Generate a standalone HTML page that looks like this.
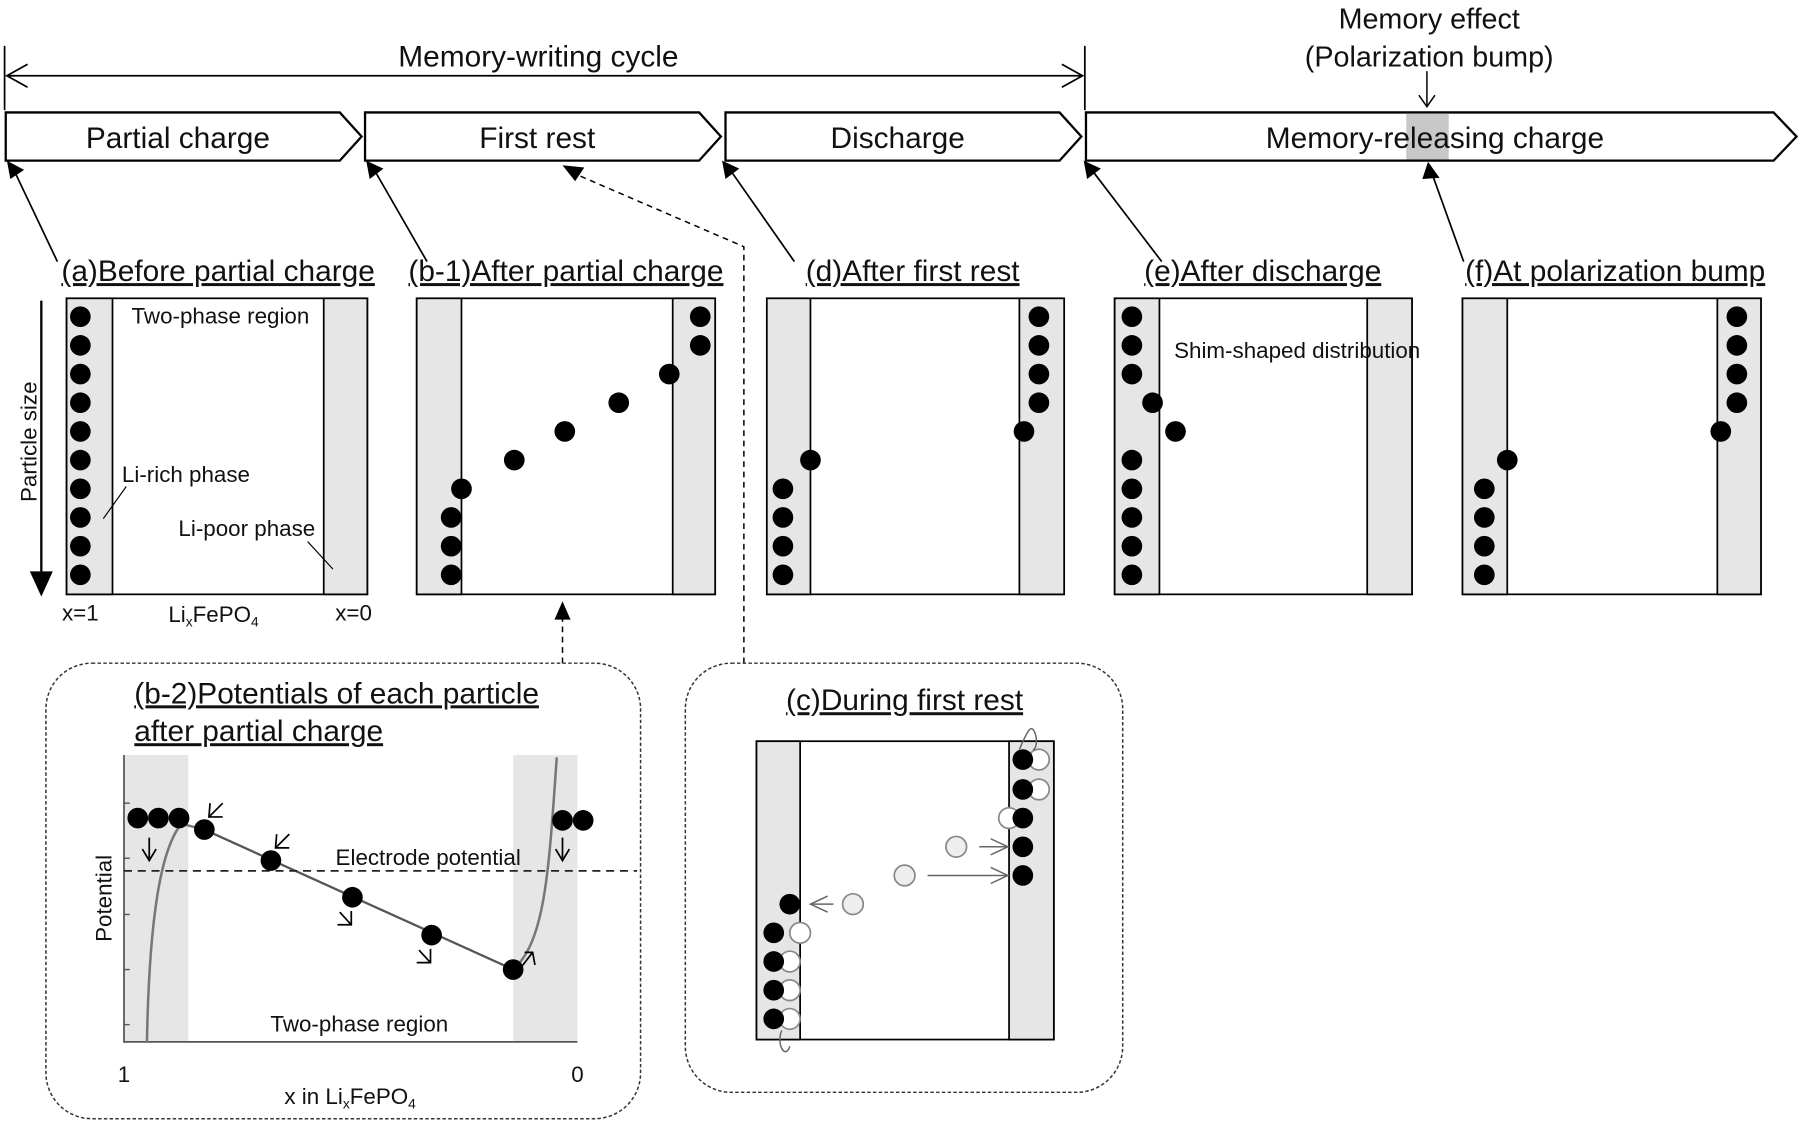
<!DOCTYPE html>
<html><head><meta charset="utf-8"><style>
html,body{margin:0;padding:0;background:#fff;}
svg{display:block;}
text{font-family:"Liberation Sans",sans-serif;fill:#111;}
.t{font-size:26px;text-decoration:underline;}
.s{font-size:19.5px;}
</style></head><body>
<svg width="1800" height="1121" viewBox="0 0 1568 977" preserveAspectRatio="none" xmlns="http://www.w3.org/2000/svg">
<defs>
<marker id="ag" markerWidth="20" markerHeight="20" refX="18" refY="10" orient="auto" markerUnits="userSpaceOnUse"><path d="M3,3 L18,10 L3,17" fill="none" stroke="#666" stroke-width="1.3"/></marker>
</defs>
<line x1="4" y1="40" x2="4" y2="96" stroke="#000" stroke-width="1.5"/>
<line x1="945" y1="40" x2="945" y2="96" stroke="#000" stroke-width="1.5"/>
<line x1="6" y1="66" x2="943" y2="66" stroke="#000" stroke-width="1.5"/>
<path d="M24,56 L6,66 L24,76 M925,56 L943,66 L925,76" fill="none" stroke="#000" stroke-width="1.5"/>
<text x="469" y="58" font-size="26" text-anchor="middle">Memory-writing cycle</text>
<text x="1245" y="25" font-size="25" text-anchor="middle">Memory effect</text>
<text x="1245" y="58" font-size="25" text-anchor="middle">(Polarization bump)</text>
<line x1="1243" y1="62" x2="1243" y2="92" stroke="#000" stroke-width="1.3"/>
<path d="M1236,83 L1243,93 L1250,83" fill="none" stroke="#000" stroke-width="1.3"/>
<g fill="#fff" stroke="#000" stroke-width="2">
<path d="M5,98 H296 L315,119 L296,140 H5 Z"/>
<path d="M318,98 H609 L628,119 L609,140 H318 Z"/>
<path d="M632,98 H923 L942,119 L923,140 H632 Z"/>
<path d="M946,98 H1545 L1565,119 L1545,140 H946 Z"/>
</g>
<rect x="1225" y="99" width="37" height="40" fill="#c8c8c8"/>
<text x="155" y="129" font-size="26" text-anchor="middle">Partial charge</text>
<text x="468" y="129" font-size="26" text-anchor="middle">First rest</text>
<text x="782" y="129" font-size="26" text-anchor="middle">Discharge</text>
<text x="1250" y="129" font-size="26" text-anchor="middle">Memory-releasing charge</text>
<g stroke="#000" stroke-width="1.5" fill="none">
<line x1="50" y1="228" x2="12" y2="148"/>
<line x1="372" y1="228" x2="326" y2="148"/>
<line x1="692" y1="228" x2="636" y2="148"/>
<line x1="1012" y1="228" x2="951" y2="148"/>
<line x1="1275" y1="228" x2="1247" y2="150"/>
</g>
<g fill="#000">
<path d="M6,140 L21,148 L9,156 Z"/>
<path d="M319,140 L334,147 L322,156 Z"/>
<path d="M629,140 L644,147 L632,156 Z"/>
<path d="M944,140 L959,147 L947,156 Z"/>
<path d="M1244,141 L1254,155 L1239,156 Z"/>
</g>
<path d="M648,578 V215 L502,152" fill="none" stroke="#000" stroke-width="1.3" stroke-dasharray="5,4"/>
<path d="M490,144 L509,146 L501,158 Z" fill="#000"/>
<path d="M490,578 V538" fill="none" stroke="#000" stroke-width="1.3" stroke-dasharray="5,4"/>
<path d="M483,540 L490,524 L497,540 Z" fill="#000"/>
<text class="t" x="190" y="245" text-anchor="middle">(a)Before partial charge</text>
<text class="t" x="493" y="245" text-anchor="middle">(b-1)After partial charge</text>
<text class="t" x="795" y="245" text-anchor="middle">(d)After first rest</text>
<text class="t" x="1100" y="245" text-anchor="middle">(e)After discharge</text>
<text class="t" x="1407" y="245" text-anchor="middle">(f)At polarization bump</text>
<g stroke="#000" stroke-width="1.5">
<rect x="58" y="260" width="262" height="258" fill="#fff"/>
<rect x="58" y="260" width="40" height="258" fill="#e6e6e6"/>
<rect x="282" y="260" width="38" height="258" fill="#e6e6e6"/>
<rect x="363" y="260" width="260" height="258" fill="#fff"/>
<rect x="363" y="260" width="39" height="258" fill="#e6e6e6"/>
<rect x="586" y="260" width="37" height="258" fill="#e6e6e6"/>
<rect x="668" y="260" width="259" height="258" fill="#fff"/>
<rect x="668" y="260" width="38" height="258" fill="#e6e6e6"/>
<rect x="888" y="260" width="39" height="258" fill="#e6e6e6"/>
<rect x="971" y="260" width="259" height="258" fill="#fff"/>
<rect x="971" y="260" width="39" height="258" fill="#e6e6e6"/>
<rect x="1191" y="260" width="39" height="258" fill="#e6e6e6"/>
<rect x="1274" y="260" width="260" height="258" fill="#fff"/>
<rect x="1274" y="260" width="39" height="258" fill="#e6e6e6"/>
<rect x="1496" y="260" width="38" height="258" fill="#e6e6e6"/>
</g>
<g fill="#000">
<circle cx="70" cy="276" r="9"/><circle cx="70" cy="301" r="9"/><circle cx="70" cy="326" r="9"/><circle cx="70" cy="351" r="9"/><circle cx="70" cy="376" r="9"/><circle cx="70" cy="401" r="9"/><circle cx="70" cy="426" r="9"/><circle cx="70" cy="451" r="9"/><circle cx="70" cy="476" r="9"/><circle cx="70" cy="501" r="9"/>
<circle cx="610" cy="276" r="9"/><circle cx="610" cy="301" r="9"/><circle cx="583" cy="326" r="9"/><circle cx="539" cy="351" r="9"/><circle cx="492" cy="376" r="9"/><circle cx="448" cy="401" r="9"/><circle cx="402" cy="426" r="9"/><circle cx="393" cy="451" r="9"/><circle cx="393" cy="476" r="9"/><circle cx="393" cy="501" r="9"/>
<circle cx="905" cy="276" r="9"/><circle cx="905" cy="301" r="9"/><circle cx="905" cy="326" r="9"/><circle cx="905" cy="351" r="9"/><circle cx="892" cy="376" r="9"/><circle cx="706" cy="401" r="9"/><circle cx="682" cy="426" r="9"/><circle cx="682" cy="451" r="9"/><circle cx="682" cy="476" r="9"/><circle cx="682" cy="501" r="9"/>
<circle cx="986" cy="276" r="9"/><circle cx="986" cy="301" r="9"/><circle cx="986" cy="326" r="9"/><circle cx="1004" cy="351" r="9"/><circle cx="1024" cy="376" r="9"/><circle cx="986" cy="401" r="9"/><circle cx="986" cy="426" r="9"/><circle cx="986" cy="451" r="9"/><circle cx="986" cy="476" r="9"/><circle cx="986" cy="501" r="9"/>
<circle cx="1513" cy="276" r="9"/><circle cx="1513" cy="301" r="9"/><circle cx="1513" cy="326" r="9"/><circle cx="1513" cy="351" r="9"/><circle cx="1499" cy="376" r="9"/><circle cx="1313" cy="401" r="9"/><circle cx="1293" cy="426" r="9"/><circle cx="1293" cy="451" r="9"/><circle cx="1293" cy="476" r="9"/><circle cx="1293" cy="501" r="9"/>
</g>
<text class="s" x="192" y="282" text-anchor="middle">Two-phase region</text>
<text class="s" x="162" y="420" text-anchor="middle">Li-rich phase</text>
<line x1="110" y1="424" x2="90" y2="452" stroke="#000"/>
<text class="s" x="215" y="467" text-anchor="middle">Li-poor phase</text>
<line x1="268" y1="472" x2="290" y2="496" stroke="#000"/>
<text class="s" x="1130" y="312" text-anchor="middle">Shim-shaped distribution</text>
<text class="s" transform="translate(32,385) rotate(-90)" text-anchor="middle">Particle size</text>
<line x1="36" y1="262" x2="36" y2="500" stroke="#000" stroke-width="2"/>
<path d="M26,498 L36,520 L46,498 Z" fill="#000"/>
<text class="s" x="70" y="541" text-anchor="middle" font-size="17">x=1</text>
<text class="s" x="186" y="542" text-anchor="middle" font-size="17">Li<tspan font-size="12" dy="4">x</tspan><tspan dy="-4">FePO</tspan><tspan font-size="12" dy="4">4</tspan></text>
<text class="s" x="308" y="541" text-anchor="middle" font-size="17">x=0</text>
<rect x="40" y="578" width="518" height="397" rx="40" fill="none" stroke="#333" stroke-width="1.3" stroke-dasharray="3,2"/>
<text class="t" x="117" y="613">(b-2)Potentials of each particle</text>
<text class="t" x="117" y="646">after partial charge</text>
<rect x="108" y="658" width="56" height="250" fill="#e6e6e6"/>
<rect x="447" y="658" width="56" height="250" fill="#e6e6e6"/>
<path d="M108,658 V908 H503" fill="none" stroke="#555" stroke-width="1.5"/>
<g stroke="#555" stroke-width="1.2"><line x1="108" y1="700" x2="113" y2="700"/><line x1="108" y1="748" x2="113" y2="748"/><line x1="108" y1="797" x2="113" y2="797"/><line x1="108" y1="845" x2="113" y2="845"/><line x1="108" y1="893" x2="113" y2="893"/></g>
<path d="M128,908 C130,800 140,740 158,718 L178,723" fill="none" stroke="#777" stroke-width="2.2"/>
<path d="M447,845 C475,820 478,760 485,660" fill="none" stroke="#777" stroke-width="2.2"/>
<line x1="178" y1="723" x2="447" y2="845" stroke="#555" stroke-width="2"/>
<line x1="108" y1="759" x2="555" y2="759" stroke="#222" stroke-width="1.5" stroke-dasharray="7,5"/>
<text class="s" x="373" y="754" text-anchor="middle">Electrode potential</text>
<g fill="#000">
<circle cx="120" cy="713" r="9"/><circle cx="138" cy="713" r="9"/><circle cx="156" cy="713" r="9"/><circle cx="178" cy="723" r="9"/><circle cx="236" cy="750" r="9"/><circle cx="307" cy="782" r="9"/><circle cx="376" cy="815" r="9"/><circle cx="447" cy="845" r="9"/><circle cx="490" cy="715" r="9"/><circle cx="508" cy="715" r="9"/>
</g>
<g stroke="#000" stroke-width="1.5" fill="none">
<path d="M182,712 L194,700 M183,700 L182,712 L194,712" transform="rotate(0)"/>
<path d="M240,739 L252,727 M241,727 L240,739 L252,739"/>
<path d="M296,795 L306,806 M306,794 L306,806 L294,806"/>
<path d="M365,828 L375,839 M375,827 L375,839 L363,839"/>
<path d="M454,843 L464,830 M457,830 L464,830 L466,841"/>
<path d="M130,730 V748 M124,740 L130,750 L136,740"/>
<path d="M490,730 V748 M484,740 L490,750 L496,740"/>
</g>
<text class="s" x="313" y="899" text-anchor="middle">Two-phase region</text>
<text class="s" x="108" y="943" text-anchor="middle">1</text>
<text class="s" x="503" y="943" text-anchor="middle">0</text>
<text class="s" x="305" y="962" text-anchor="middle" font-size="18">x in Li<tspan font-size="12" dy="4">x</tspan><tspan dy="-4">FePO</tspan><tspan font-size="12" dy="4">4</tspan></text>
<text class="s" transform="translate(97,783) rotate(-90)" text-anchor="middle">Potential</text>
<rect x="597" y="578" width="381" height="374" rx="40" fill="none" stroke="#333" stroke-width="1.3" stroke-dasharray="3,2"/>
<text class="t" x="788" y="619" text-anchor="middle">(c)During first rest</text>
<g stroke="#000" stroke-width="1.5">
<rect x="659" y="646" width="259" height="260" fill="#fff"/>
<rect x="659" y="646" width="38" height="260" fill="#e6e6e6"/>
<rect x="879" y="646" width="39" height="260" fill="#e6e6e6"/>
</g>
<g fill="#fff" stroke="#888" stroke-width="1.5">
<circle cx="905" cy="662" r="9"/><circle cx="905" cy="688" r="9"/><circle cx="879" cy="713" r="9"/><circle cx="833" cy="738" r="9" fill="#eee"/><circle cx="788" cy="763" r="9" fill="#eee"/><circle cx="743" cy="788" r="9" fill="#eee"/><circle cx="697" cy="813" r="9"/><circle cx="688" cy="838" r="9"/><circle cx="688" cy="863" r="9"/><circle cx="688" cy="888" r="9"/>
</g>
<g fill="#000">
<circle cx="891" cy="662" r="9"/><circle cx="891" cy="688" r="9"/><circle cx="891" cy="713" r="9"/><circle cx="891" cy="738" r="9"/><circle cx="891" cy="763" r="9"/><circle cx="688" cy="788" r="9"/><circle cx="674" cy="813" r="9"/><circle cx="674" cy="838" r="9"/><circle cx="674" cy="863" r="9"/><circle cx="674" cy="888" r="9"/>
</g>
<g stroke="#666" stroke-width="1.3" fill="none">
<line x1="853" y1="738" x2="878" y2="738" marker-end="url(#ag)"/>
<line x1="808" y1="763" x2="878" y2="763" marker-end="url(#ag)"/>
<line x1="726" y1="788" x2="706" y2="788" marker-end="url(#ag)"/>
<path d="M888,653 C894,640 898,628 902,640 C904,648 902,652 900,654"/>
<path d="M681,898 C676,910 684,924 688,912"/>
</g>
</svg>
</body></html>
